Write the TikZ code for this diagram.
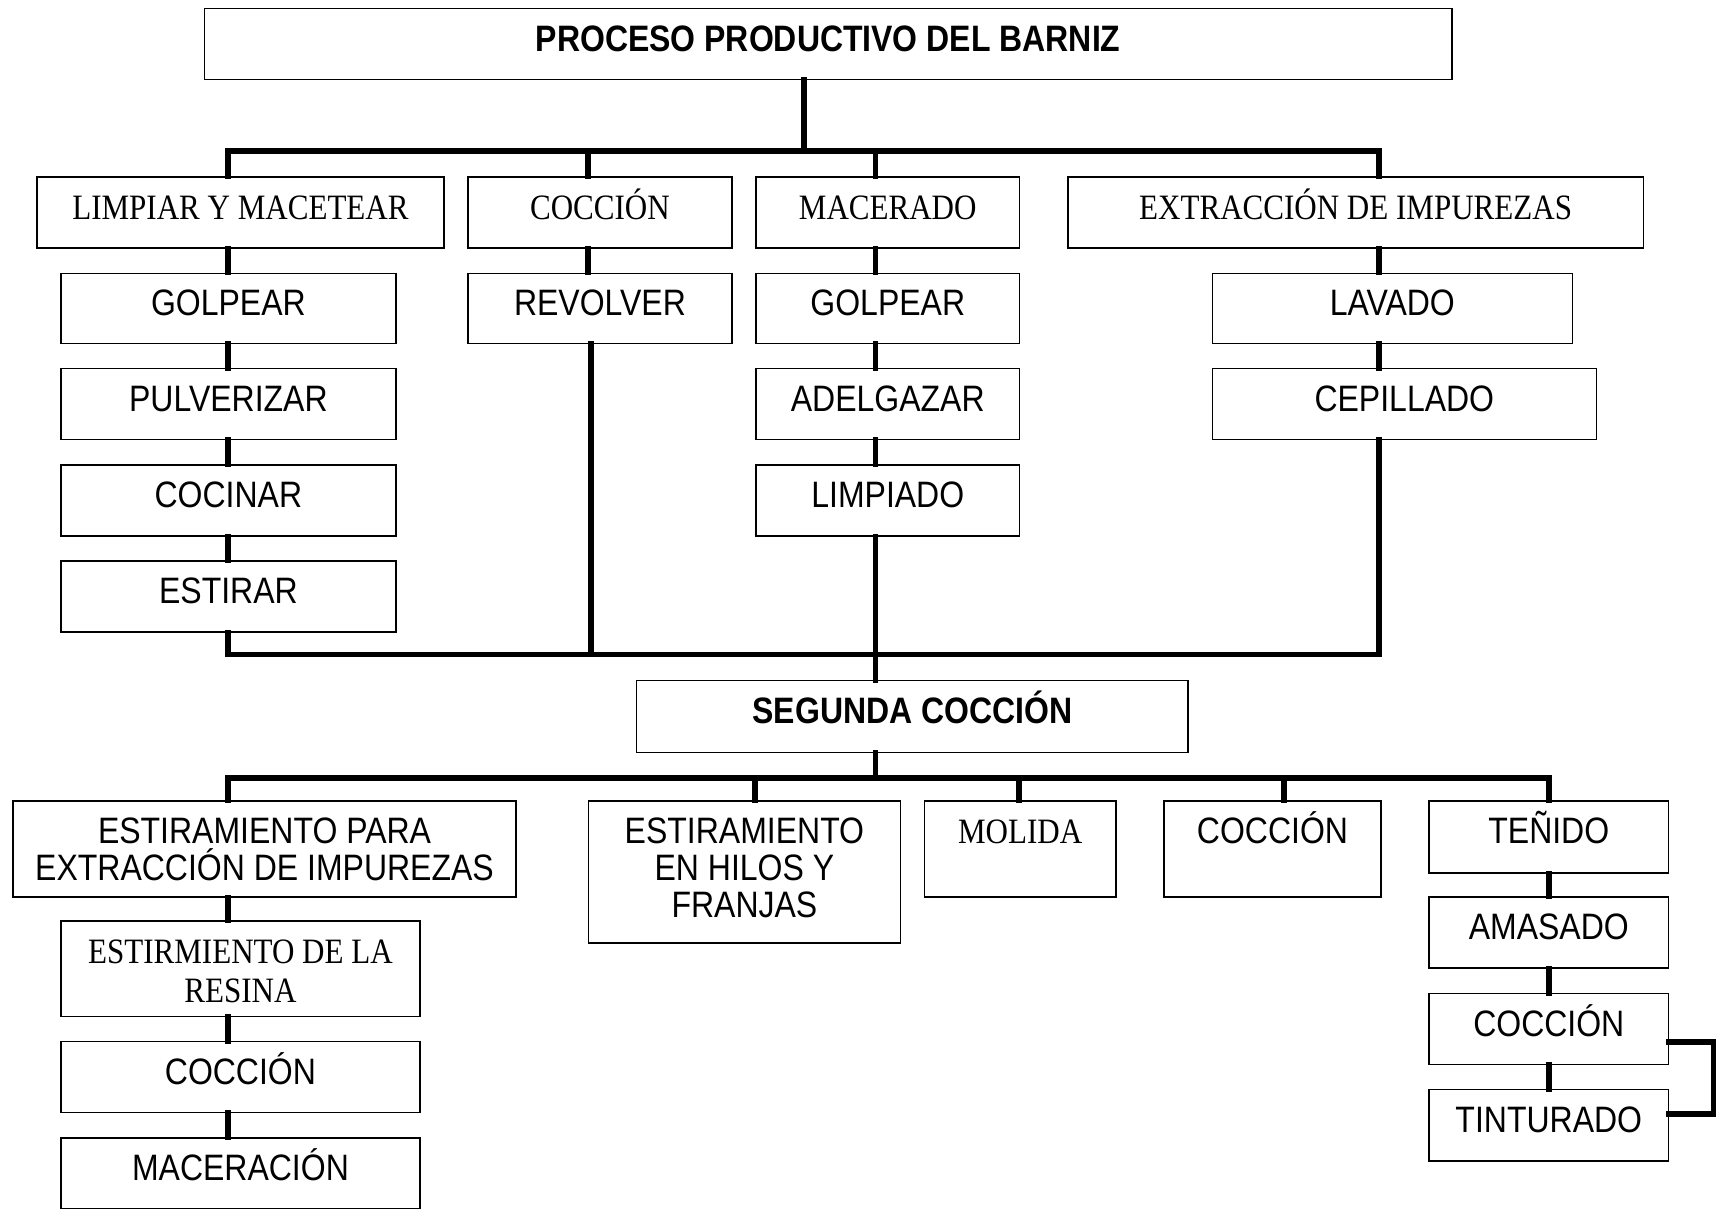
\documentclass[tikz,border=0pt]{standalone}
\usepackage{fontspec}
\setmainfont{Liberation Serif}[FakeStretch=0.87]
\setsansfont{Liberation Sans}[FakeStretch=0.87]

\tikzset{
  caja/.style args={#1/#2}{draw, line width=0.7pt, inner sep=0pt, anchor=north west,
    align=flush center, text width=#1*0.5pt, minimum width=#1*0.5pt, minimum height=#2*0.5pt,
    text height=19.5pt, text depth=#2*0.5pt-19.5pt,
    font=\sffamily\fontsize{16.8}{17}\selectfont},
  serif/.style={font=\rmfamily\fontsize{16.3}{17.5}\selectfont},
  negrita/.style={font=\sffamily\bfseries\fontsize{16.8}{17}\selectfont},
  conector/.style={line width=2.7pt, line cap=rect}
}

\begin{document}
\begin{tikzpicture}[x=0.5pt, y=-0.5pt]
  \useasboundingbox (0,0) rectangle (1568,1104);
  % primer nivel
  \node[caja=1140/65, negrita] (titulo) at (186,7) {PROCESO PRODUCTIVO DEL BARNIZ};
  \node[caja=372/65, serif] (limpiar) at (33,161) {LIMPIAR Y MACETEAR};
  \node[caja=241/65, serif] (coccion1) at (427,161) {COCCIÓN};
  \node[caja=241/65, serif] (macerado) at (690,161) {MACERADO};
  \node[caja=526/65, serif] (extraccion) at (975,161) {EXTRACCIÓN DE IMPUREZAS};
  % pasos de cada rama
  \node[caja=306/64] (golpear1) at (55,249) {GOLPEAR};
  \node[caja=306/65] (pulverizar) at (55,336) {PULVERIZAR};
  \node[caja=306/65] (cocinar) at (55,424) {COCINAR};
  \node[caja=306/65] (estirar) at (55,512) {ESTIRAR};
  \node[caja=241/64] (revolver) at (427,249) {REVOLVER};
  \node[caja=241/64] (golpear2) at (690,249) {GOLPEAR};
  \node[caja=241/65] (adelgazar) at (690,336) {ADELGAZAR};
  \node[caja=241/65] (limpiado) at (690,424) {LIMPIADO};
  \node[caja=329/64] (lavado) at (1107,249) {LAVADO};
  \node[caja=351/65] (cepillado) at (1107,336) {CEPILLADO};
  % segundo nivel
  \node[caja=504/66, negrita] (segunda) at (581,621) {SEGUNDA COCCIÓN};
  \node[caja=460/88] (estirpara) at (11,731) {ESTIRAMIENTO PARA\\EXTRACCIÓN DE IMPUREZAS};
  \node[caja=285/130] (hilos) at (537,731) {ESTIRAMIENTO\\EN HILOS Y\\FRANJAS};
  \node[caja=175/88, serif] (molida) at (844,731) {MOLIDA};
  \node[caja=198/88] (coccion2) at (1063,731) {COCCIÓN};
  \node[caja=219/66] (tenido) at (1305,731) {TEÑIDO};
  \node[caja=328/87, serif] (resina) at (55,841) {ESTIRMIENTO DE LA\\RESINA};
  \node[caja=328/65] (coccion3) at (55,951) {COCCIÓN};
  \node[caja=328/65] (maceracion) at (55,1039) {MACERACIÓN};
  \node[caja=219/65] (amasado) at (1305,819) {AMASADO};
  \node[caja=219/65] (coccion4) at (1305,907) {COCCIÓN};
  \node[caja=219/65] (tinturado) at (1305,995) {TINTURADO};

  % tronco superior
  \coordinate (t0) at (735,138);
  \coordinate (t1) at (208,138);
  \coordinate (t2) at (537,138);
  \coordinate (t3) at (800,138);
  \coordinate (t4) at (1260,138);
  \draw[conector] (titulo.south -| t0) -- (t0);
  \draw[conector] (t1) -- (t4);
  \draw[conector] (t1) -- (t1 |- limpiar.north);
  \draw[conector] (t2) -- (t2 |- coccion1.north);
  \draw[conector] (t3) -- (t3 |- macerado.north);
  \draw[conector] (t4) -- (t4 |- extraccion.north);
  \foreach \a/\b in {limpiar/golpear1, golpear1/pulverizar, pulverizar/cocinar, cocinar/estirar}
    \draw[conector] (t1 |- \a.south) -- (t1 |- \b.north);
  \draw[conector] (t2 |- coccion1.south) -- (t2 |- revolver.north);
  \foreach \a/\b in {macerado/golpear2, golpear2/adelgazar, adelgazar/limpiado}
    \draw[conector] (t3 |- \a.south) -- (t3 |- \b.north);
  \foreach \a/\b in {extraccion/lavado, lavado/cepillado}
    \draw[conector] (t4 |- \a.south) -- (t4 |- \b.north);

  % union hacia la segunda coccion
  \coordinate (u1) at (208,598);
  \coordinate (u2) at (540,598);
  \coordinate (u3) at (800,598);
  \coordinate (u4) at (1260,598);
  \draw[conector] (u1) -- (u4);
  \draw[conector] (estirar.south -| u1) -- (u1);
  \draw[conector] (revolver.south -| u2) -- (u2);
  \draw[conector] (limpiado.south -| u3) -- (u3) -- (u3 |- segunda.north);
  \draw[conector] (cepillado.south -| u4) -- (u4);

  % ramas de la segunda coccion
  \coordinate (s0) at (800,711);
  \coordinate (s1) at (208,711);
  \coordinate (s2) at (690,711);
  \coordinate (s3) at (931,711);
  \coordinate (s4) at (1173,711);
  \coordinate (s5) at (1415,711);
  \draw[conector] (segunda.south -| s0) -- (s0);
  \draw[conector] (s1) -- (s5);
  \foreach \c/\n in {s1/estirpara, s2/hilos, s3/molida, s4/coccion2, s5/tenido}
    \draw[conector] (\c) -- (\c |- \n.north);
  \foreach \a/\b in {estirpara/resina, resina/coccion3, coccion3/maceracion}
    \draw[conector] (s1 |- \a.south) -- (s1 |- \b.north);
  \foreach \a/\b in {tenido/amasado, amasado/coccion4, coccion4/tinturado}
    \draw[conector] (s5 |- \a.south) -- (s5 |- \b.north);
  % retorno coccion - tinturado
  \draw[conector] ([yshift=-5.75pt]coccion4.east) -- ++(41,0) |- ([yshift=5.25pt]tinturado.east);
\end{tikzpicture}
\end{document}
